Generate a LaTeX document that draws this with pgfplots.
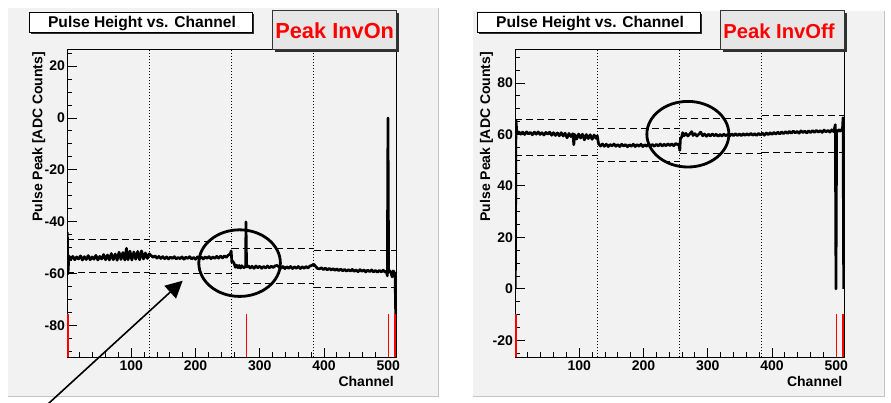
\documentclass[border=0pt]{standalone}
\usepackage{pgfplots}
\pgfplotsset{compat=1.18}
\usepackage{fontspec}
\setmainfont{Liberation Sans}
\usetikzlibrary{arrows.meta}

\definecolor{padgray}{HTML}{F2F2F2}
\definecolor{padedge}{HTML}{C4C4C4}
\definecolor{boxgray}{HTML}{E6E6E6}
\definecolor{shadow}{HTML}{303030}

\pgfplotsset{
  rootframe/.style={
    scale only axis, width=329pt, height=308pt, anchor=south west,
    xmin=0, xmax=512,
    xtick={100,200,300,400,500}, xticklabels={100,200,300,400,500},
    minor xtick={0,20,...,500},
    tick align=inside, xtick pos=left, ytick pos=left,
    major tick length=9.5pt, minor tick length=4.7pt,
    tick style={black, line width=0.9pt},
    axis line style={line width=0.8pt},
    ticklabel style={font=\bfseries\fontsize{14}{16}\selectfont},
    xticklabel style={yshift=-0.5pt},
    yticklabel style={xshift=1.5pt},
  },
  vdot/.style={black, mark=none, line width=0.8pt, dash pattern=on 1.3pt off 1.7pt},
  hdash/.style={black, mark=none, line width=0.9pt, dash pattern=on 7pt off 4pt},
  hist/.style={black, mark=none, line width=2.7pt, line join=round},
  bad/.style={red, mark=none, line width=1.3pt},
}

\begin{document}
\begin{tikzpicture}[x=1pt,y=1pt]
\path[use as bounding box, fill=white] (0,0) rectangle (891,402);
% pads
\fill[padgray] (8,6) rectangle (438,394);
\draw[padedge, line width=1pt] (438,394) -- (438,6) -- (8,6);
\fill[padgray] (473,6) rectangle (884,391);
\draw[padedge, line width=1pt] (884,391) -- (884,6) -- (473,6);

% ---------- left: Peak InvOn ----------
\begin{axis}[rootframe, at={(67pt,45pt)},
  ymin=-92.05, ymax=26.55,
  ytick={-80,-60,-40,-20,0,20}, yticklabels={-80,-60,-40,-20,0,20},
  minor ytick={-90,-85,...,25}]
\addplot[vdot] coordinates {(128,-92.05) (128,26.55)};
\addplot[vdot] coordinates {(256,-92.05) (256,26.55)};
\addplot[vdot] coordinates {(384,-92.05) (384,26.55)};
\addplot[hdash] coordinates {(0,-46.7) (128,-46.7)};
\addplot[hdash] coordinates {(0,-59.3) (128,-59.3)};
\addplot[hdash] coordinates {(128,-47.4) (256,-47.4)};
\addplot[hdash] coordinates {(128,-60.0) (256,-60.0)};
\addplot[hdash] coordinates {(256,-50.3) (384,-50.3)};
\addplot[hdash] coordinates {(256,-63.6) (384,-63.6)};
\addplot[hdash] coordinates {(384,-51.0) (512,-51.0)};
\addplot[hdash] coordinates {(384,-65.1) (512,-65.1)};
\addplot[hist] coordinates {
(0.5,-44) (1.5,-60) (3,-53.2) (6,-54.4) (9,-53.3) (12,-54.6) (15,-53.5) (18,-54.3)
(21,-53.1) (24,-54.7) (27,-53.4) (30,-54.5) (33,-53.0) (36,-54.6) (39,-53.5) (42,-54.4)
(45,-52.9) (48,-54.7) (51,-53.3) (54,-54.3) (57,-52.6) (60,-54.6) (63,-52.8) (66,-54.7)
(69,-52.2) (72,-54.6) (75,-52.4) (78,-54.8) (81,-51.7) (84,-54.5) (87,-51.8) (90,-54.7)
(92.5,-50.2) (95,-54.6) (98,-51.3) (101,-54.7) (104,-51.6) (107,-54.4) (110,-51.4) (113,-54.6)
(116,-51.2) (119,-54.3) (122,-52.0) (125,-54.1) (128,-52.3) (131,-53.0) (134,-53.7) (137,-53.1)
(140,-54.0) (143,-53.3) (146,-54.1) (149,-53.4) (152,-54.2) (155,-53.5) (158,-54.3) (161,-53.6)
(164,-54.1) (167,-53.4) (170,-54.3) (173,-53.7) (176,-54.2) (179,-53.5) (182,-54.4) (185,-53.6)
(188,-54.1) (191,-53.4) (194,-54.3) (197,-53.7) (200,-54.4) (203,-53.5) (206,-54.2) (209,-53.6)
(212,-54.3) (215,-53.5) (218,-54.1) (221,-53.4) (224,-54.2) (227,-53.5) (230,-54.1) (233,-53.3)
(236,-54.0) (239,-53.2) (242,-53.9) (245,-53.1) (248,-53.7) (251,-52.8) (254,-52.4) (255.5,-51.2)
(256.5,-55.5) (258,-55.2) (260,-56.0) (262,-57.5) (264,-56.7) (266,-57.7) (268,-56.8) (270,-57.8)
(272,-56.9) (275,-57.7) (278,-57.1) (278.5,-40) (279.5,-57.4) (282,-56.9) (285,-57.8) (288,-57.1)
(291,-57.9) (294,-57.0) (297,-57.7) (300,-57.1) (303,-57.9) (306,-57.2) (309,-57.8) (312,-57.0)
(315,-57.7) (318,-57.1) (321,-57.6) (324,-56.9) (327,-56.8) (330,-57.4) (333,-57.9) (336,-57.2)
(339,-58.0) (342,-57.3) (345,-57.9) (348,-57.2) (351,-58.0) (354,-57.3) (357,-57.9) (360,-57.2)
(363,-58.0) (366,-57.3) (369,-57.9) (372,-57.2) (375,-57.8) (378,-57.0) (381,-56.8) (384,-56.3)
(387,-57.2) (390,-58.0) (393,-58.1) (396,-57.7) (399,-58.4) (402,-57.8) (405,-58.5) (408,-57.9)
(411,-58.6) (414,-58.0) (417,-58.7) (420,-58.1) (423,-58.8) (426,-58.2) (429,-58.9) (432,-58.3)
(435,-59.0) (438,-58.4) (441,-59.0) (444,-58.3) (447,-59.1) (450,-58.5) (453,-59.2) (456,-58.4)
(459,-59.1) (462,-58.5) (465,-59.3) (468,-58.6) (471,-59.2) (474,-58.5) (477,-59.3) (480,-58.7)
(483,-59.4) (486,-58.7) (489,-59.3) (492,-58.6) (495,-59.4) (497,-59.0) (498.5,-60.8) (499.5,0)
(500.5,-59.5) (502,-58.8) (504,-59.4) (506,-61.2) (507.5,-58.9) (509,-59.3) (510.5,-60) (511.5,-75.6)
};
\addplot[bad, line width=2.2pt] coordinates {(1,-92.05) (1,-75.6)};
\addplot[bad] coordinates {(279,-92.05) (279,-75.6)};
\addplot[bad] coordinates {(500,-92.05) (500,-75.6)};
\addplot[bad, line width=1.8pt] coordinates {(510.7,-92.05) (510.7,-75.6)};
\draw[line width=2.8pt] (axis cs:268.6,-55.9) ellipse [x radius=40.8pt, y radius=33.3pt];
\end{axis}

% ---------- right: Peak InvOff ----------
\begin{axis}[rootframe, at={(515pt,45pt)},
  ymin=-26.45, ymax=93.2,
  ytick={-20,0,20,40,60,80}, yticklabels={-20,0,20,40,60,80},
  minor ytick={-25,-20,...,90}]
\addplot[vdot] coordinates {(128,-26.45) (128,93.2)};
\addplot[vdot] coordinates {(256,-26.45) (256,93.2)};
\addplot[vdot] coordinates {(384,-26.45) (384,93.2)};
\addplot[hdash] coordinates {(0,65.7) (128,65.7)};
\addplot[hdash] coordinates {(0,51.7) (128,51.7)};
\addplot[hdash] coordinates {(128,62.5) (256,62.5)};
\addplot[hdash] coordinates {(128,49.5) (256,49.5)};
\addplot[hdash] coordinates {(256,66.3) (384,66.3)};
\addplot[hdash] coordinates {(256,52.6) (384,52.6)};
\addplot[hdash] coordinates {(384,67.2) (512,67.2)};
\addplot[hdash] coordinates {(384,53.0) (512,53.0)};
\addplot[hist] coordinates {
(0.5,0) (1.5,65.5) (3,60.4) (6,61.0) (9,60.1) (12,60.9) (15,60.0) (18,61.0)
(21,60.2) (24,60.8) (27,59.9) (30,60.9) (33,60.1) (36,61.0) (39,60.0) (42,60.7)
(45,59.8) (48,60.8) (51,60.1) (54,60.9) (57,59.7) (60,60.7) (63,59.6) (66,60.6)
(69,59.5) (72,60.7) (75,59.4) (78,60.5) (81,58.7) (84,60.4) (87,59.2) (90,60.3)
(91.5,56.0) (93,60.0) (96,58.2) (99,60.2) (102,58.6) (105,60.1) (108,57.9) (111,60.0)
(114,58.4) (117,59.9) (120,58.1) (123,59.8) (126,58.5) (128,59.5) (130,56.4) (133,55.5)
(136,56.3) (139,55.4) (142,56.2) (145,55.3) (148,56.1) (151,55.5) (154,56.3) (157,55.4)
(160,56.1) (163,55.3) (166,56.2) (169,55.5) (172,56.1) (175,55.2) (178,56.0) (181,55.4)
(184,56.2) (187,55.3) (190,56.1) (193,55.4) (196,56.2) (199,55.3) (202,56.0) (205,55.4)
(208,56.3) (211,55.5) (214,56.1) (217,55.4) (220,56.2) (223,55.5) (226,56.3) (229,55.5)
(232,56.2) (235,55.6) (238,56.4) (241,55.7) (244,56.3) (247,55.6) (250,56.5) (253,56.0)
(255,56.3) (256.5,53.8) (257.5,58.6) (259,58.8) (261,60.7) (263,59.5) (266,60.4) (269,59.4)
(272,60.2) (275,61.1) (277,59.6) (280,60.3) (283,59.4) (286,60.1) (289,60.9) (292,59.5)
(295,60.2) (298,59.3) (301,60.1) (304,59.4) (307,60.2) (310,59.5) (313,60.1) (316,59.3)
(319,60.0) (322,59.4) (325,60.1) (328,59.5) (331,60.0) (334,59.4) (337,60.2) (340,59.5)
(343,60.3) (346,59.6) (349,60.2) (352,59.5) (355,60.3) (358,59.6) (361,60.3) (364,59.7)
(367,60.4) (370,59.7) (373,60.3) (376,59.6) (379,60.4) (382,59.8) (385,60.5) (388,59.7)
(391,60.6) (394,59.9) (397,60.7) (400,60.0) (403,60.8) (406,60.1) (409,60.9) (412,60.2)
(415,61.0) (418,60.3) (421,61.1) (424,60.4) (427,61.2) (430,60.5) (433,61.3) (436,60.6)
(439,61.2) (442,60.5) (445,61.4) (448,60.7) (451,61.3) (454,60.6) (457,61.4) (460,60.7)
(463,61.5) (466,60.8) (469,61.6) (472,60.9) (475,61.5) (478,60.8) (481,61.7) (484,61.0)
(487,61.6) (490,60.9) (493,61.8) (496,61.1) (498.5,63.8) (499.5,0) (500.5,61.6) (502,61.2)
(504,61.8) (506,61.3) (508,61.9) (509.5,61.5) (510.5,66.5) (511.5,0)
};
\addplot[bad, line width=2.2pt] coordinates {(1,-26.45) (1,-9.6)};
\addplot[bad] coordinates {(500,-26.45) (500,-9.6)};
\addplot[bad, line width=1.8pt] coordinates {(510.7,-26.45) (510.7,-9.6)};
\draw[line width=2.8pt] (axis cs:269,60.1) ellipse [x radius=41pt, y radius=32.8pt];
\end{axis}

% titles and labels
\foreach \bx/\tx in {29.3/142, 477.7/590}{
  \fill[shadow] (\bx+1.6,368.1) rectangle (\bx+224.6,387.7);
  \draw[black, line width=0.8pt, fill=white] (\bx,369.7) rectangle (\bx+223,389.3);
  \node[anchor=base, inner sep=0pt, font=\bfseries\fontsize{15.6}{17}\selectfont] at (\tx,374.3) {Pulse Height vs. Channel};
}
\fill[shadow] (274.8,350.2) rectangle (399.2,388.8);
\draw[black!80, line width=0.8pt, fill=boxgray] (272.3,352.7) rectangle (396.7,391.3);
\node[anchor=base, inner sep=0pt, text=red, font=\bfseries\fontsize{21.8}{24}\selectfont] at (334.7,363.7) {Peak InvOn};
\fill[shadow] (722.8,350.2) rectangle (846.8,388.8);
\draw[black!80, line width=0.8pt, fill=boxgray] (720.3,352.7) rectangle (844.3,391.3);
\node[anchor=base, inner sep=0pt, text=red, font=\bfseries\fontsize{20.2}{22}\selectfont] at (779,363.7) {Peak InvOff};

\foreach \lx/\cx in {42.4/394, 490.2/842.5}{
  \node[rotate=90, anchor=base east, inner sep=0pt, font=\bfseries\fontsize{14}{16}\selectfont] at (\lx,350.3) {Pulse Peak [ADC Counts]};
  \node[anchor=north east, inner sep=0pt, font=\bfseries\fontsize{14}{16}\selectfont] at (\cx,26) {Channel};
}

% arrow
\draw[black, line width=1.6pt, -{Triangle[length=17pt, width=17pt]}] (48,-2) -- (182.7,121.3);
\end{tikzpicture}
\end{document}
